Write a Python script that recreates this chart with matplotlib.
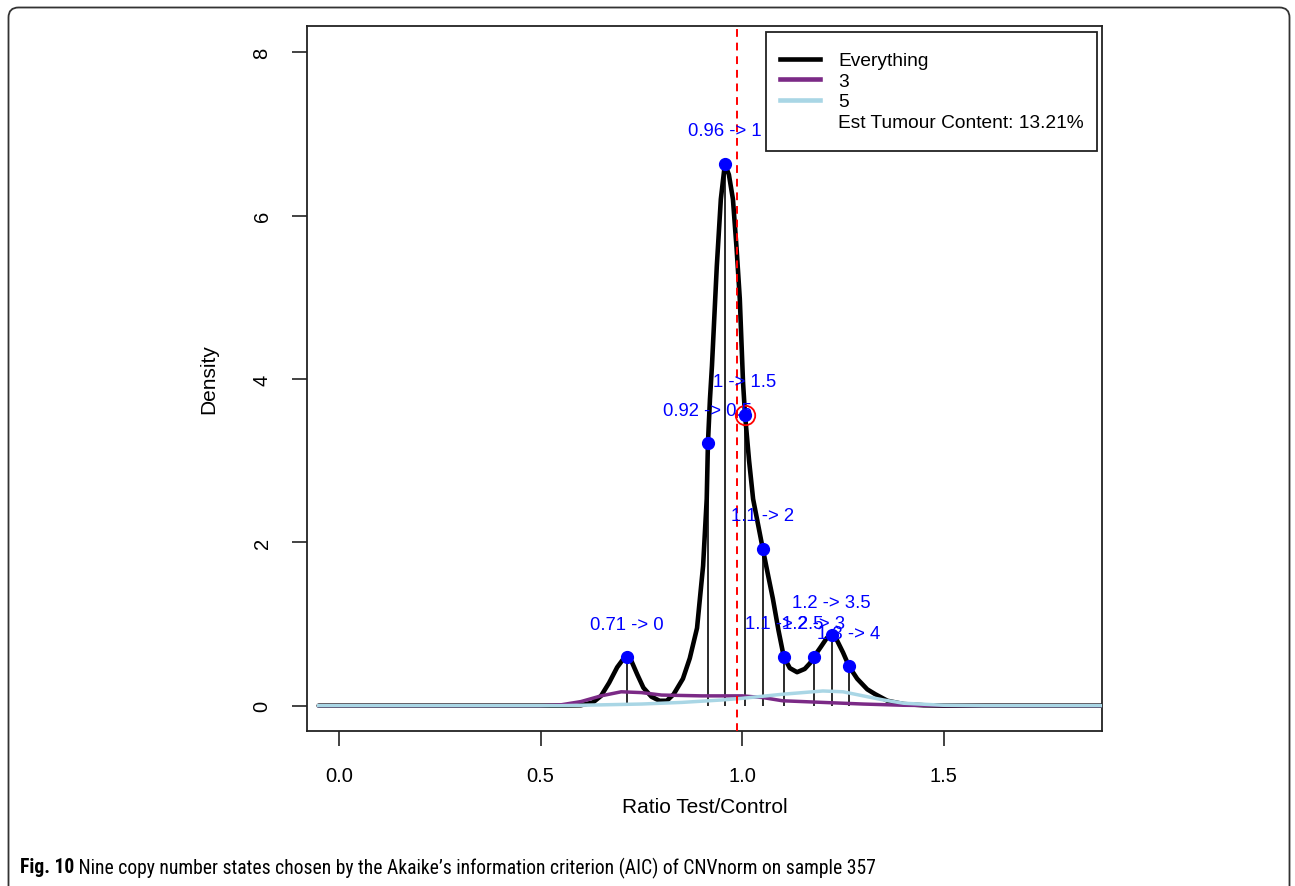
import matplotlib
matplotlib.use("Agg")
import matplotlib.pyplot as plt
from matplotlib import font_manager
from matplotlib.lines import Line2D
from matplotlib.patches import FancyBboxPatch, Rectangle
from matplotlib.transforms import IdentityTransform

# ---------------- data ----------------
everything_x = [-0.05, 0.55, 0.60, 0.63, 0.65, 0.67, 0.69, 0.705, 0.714, 0.725, 0.74, 0.755,
                0.775, 0.795, 0.813, 0.83, 0.853, 0.87, 0.888, 0.903, 0.912, 0.915, 0.92,
                0.925, 0.937, 0.947, 0.957, 0.967, 0.977, 0.986, 0.994, 1.002, 1.007, 1.017,
                1.027, 1.04, 1.051, 1.064, 1.076, 1.09, 1.103, 1.118, 1.136, 1.155, 1.168,
                1.178, 1.195, 1.21, 1.222, 1.235, 1.25, 1.265, 1.285, 1.31, 1.33, 1.36, 1.40,
                1.45, 1.50, 1.90]
everything_y = [0.0, 0.0, 0.005, 0.04, 0.12, 0.28, 0.47, 0.57, 0.59, 0.55, 0.38, 0.22,
                0.11, 0.06, 0.06, 0.14, 0.33, 0.58, 0.95, 1.71, 2.53, 3.21, 3.75,
                4.16, 5.38, 6.20, 6.63, 6.50, 6.20, 5.60, 4.98, 3.96, 3.56, 3.00,
                2.53, 2.20, 1.92, 1.60, 1.31, 0.92, 0.60, 0.46, 0.41, 0.45, 0.52,
                0.60, 0.72, 0.83, 0.86, 0.80, 0.65, 0.48, 0.33, 0.20, 0.14, 0.06, 0.02,
                0.005, 0.0, 0.0]

comp3_x = [-0.05, 0.50, 0.55, 0.60, 0.65, 0.70, 0.75, 0.80, 0.90, 1.00, 1.05, 1.10, 1.20,
           1.30, 1.40, 1.50, 1.90]
comp3_y = [0.0, 0.0, 0.01, 0.05, 0.12, 0.17, 0.16, 0.13, 0.12, 0.12, 0.10, 0.06, 0.04,
           0.02, 0.005, 0.0, 0.0]

comp5_x = [-0.05, 0.55, 0.65, 0.75, 0.85, 0.95, 1.00, 1.10, 1.20, 1.25, 1.30, 1.35, 1.40,
           1.50, 1.60, 1.90]
comp5_y = [0.0, 0.0, 0.01, 0.02, 0.04, 0.07, 0.09, 0.14, 0.18, 0.17, 0.12, 0.07, 0.03,
           0.005, 0.0, 0.0]

state_x = [0.714, 0.915, 0.957, 1.007, 1.051, 1.103, 1.178, 1.222, 1.265]
state_y = [0.59, 3.21, 6.63, 3.56, 1.92, 0.60, 0.60, 0.86, 0.48]
state_labels = ["0.71 -> 0", "0.92 -> 0.5", "0.96 -> 1", "1 -> 1.5", "1.1 -> 2",
                "1.1 -> 2.5", "1.2 -> 3", "1.2 -> 3.5", "1.3 -> 4"]
highlight_x = 1.007
highlight_y = 3.56
normal_ratio = 0.987

xticks = [0.0, 0.5, 1.0, 1.5]
xticklabels = ["0.0", "0.5", "1.0", "1.5"]
yticks = [0, 2, 4, 6, 8]
yticklabels = ["0", "2", "4", "6", "8"]

legend_labels = ["Everything", "3", "5", "Est Tumour Content: 13.21%"]
caption_bold = "Fig. 10"
caption_rest = (" Nine copy number states chosen by the Akaike\u2019s information criterion (AIC) "
                "of CNVnorm on sample 357")

# ---------------- fonts ----------------
avail = {f.name for f in font_manager.fontManager.ttflist}
main_font = "Liberation Sans" if "Liberation Sans" in avail else "DejaVu Sans"
cap_font = main_font
for cand in ["Liberation Sans Narrow", "DejaVu Sans Condensed", "Roboto Condensed",
             "Open Sans Condensed", "Noto Sans Condensed", "Roboto"]:
    if cand in avail:
        cap_font = cand
        break
plt.rcParams["font.family"] = [main_font, "DejaVu Sans"]

W, H = 1295, 887
AX_L, AX_R, AX_T, AX_B = 307, 1102, 27, 732
fig = plt.figure(figsize=(W / 100, H / 100), dpi=100)
ax = fig.add_axes([AX_L / W, 1 - AX_B / H, (AX_R - AX_L) / W, (AX_B - AX_T) / H])

C_BLACK = "black"
C_PURPLE = "#7B2A86"
C_LBLUE = "#A9D6E5"

ax.plot(everything_x, everything_y, color=C_BLACK, lw=3.3, solid_capstyle="round",
        solid_joinstyle="round", zorder=3)
ax.plot(comp3_x, comp3_y, color=C_PURPLE, lw=2.5, zorder=3.1)
ax.plot(comp5_x, comp5_y, color=C_LBLUE, lw=2.5, zorder=3.2)

ax.vlines(state_x, 0, state_y, color="#1a1a1a", lw=1.3, zorder=2.5)
ax.axvline(normal_ratio, color="red", lw=1.4, ls=(0, (4, 3)), zorder=4)
ax.plot(state_x, state_y, "o", color="blue", ms=8.5, zorder=5)
ax.plot([highlight_x], [highlight_y], "o", mfc="none", mec="red", ms=14, mew=1.3, zorder=6)

for x, y, t in zip(state_x, state_y, state_labels):
    ax.annotate(t, (x, y), xytext=(0, 24), textcoords="offset points",
                ha="center", va="center", color="blue", fontsize=13.3, zorder=7)

ax.set_xlim(-0.079, 1.892)
ax.set_ylim(-0.31, 8.32)
ax.set_xticks(xticks)
ax.set_xticklabels(xticklabels, fontsize=14.5)
ax.set_yticks(yticks)
ax.set_yticklabels(yticklabels, fontsize=14.5, rotation=90, va="center")
ax.tick_params(axis="both", direction="out", length=10.5, width=1.2, color="#222222")
ax.tick_params(axis="x", pad=14.5)
ax.tick_params(axis="y", pad=15)
for s in ax.spines.values():
    s.set_linewidth(1.3)
    s.set_color("#222222")

ax.set_xlabel("Ratio Test/Control", fontsize=15, labelpad=9)
ax.set_ylabel("Density", fontsize=15, labelpad=25)

# legend: frame drawn separately, entries placed inside it
def ax_x(px):
    return (px - AX_L) / (AX_R - AX_L)

def ax_y(py):
    return (AX_B - py) / (AX_B - AX_T)

ax.add_patch(Rectangle((ax_x(766), ax_y(152)), ax_x(1097) - ax_x(766), ax_y(33) - ax_y(152),
                       transform=ax.transAxes, facecolor="white", edgecolor="#222222",
                       lw=1.3, zorder=9))
handles = [Line2D([], [], color=C_BLACK, lw=3.3),
           Line2D([], [], color=C_PURPLE, lw=3.3),
           Line2D([], [], color=C_LBLUE, lw=3.3),
           Line2D([], [], color="none", lw=0)]
leg = ax.legend(handles, legend_labels, loc="upper left",
                bbox_to_anchor=(ax_x(780), ax_y(53)),
                fontsize=13.8, frameon=False, handlelength=2.1, handletextpad=0.95,
                labelspacing=0.16, borderpad=0, borderaxespad=0)
leg.set_zorder(10)

# outer panel frame
frame = FancyBboxPatch((8.5, -30), 1281, 908.5, boxstyle="round,pad=0,rounding_size=10",
                       transform=IdentityTransform(), fill=False, edgecolor="#333333", lw=1.3)
fig.patches.append(frame)

# caption (sized so the line spans the same width as in the reference)
cap_size = 15
cb = fig.text(20 / W, 1 - 868 / H, caption_bold, fontsize=cap_size, fontweight="bold",
              family=[cap_font, "DejaVu Sans"], va="center", ha="left")
cr = fig.text(0, 1 - 868 / H, caption_rest, fontsize=cap_size,
              family=[cap_font, "DejaVu Sans"], va="center", ha="left")
fig.canvas.draw()
r = fig.canvas.get_renderer()
total = cb.get_window_extent(r).width + cr.get_window_extent(r).width
scale = min(1.0, 860.0 / total)
cb.set_fontsize(cap_size * scale)
cr.set_fontsize(cap_size * scale)
fig.canvas.draw()
bb = cb.get_window_extent(r)
cr.set_x(bb.x1 / W)

fig.savefig("out.png", dpi=100)
